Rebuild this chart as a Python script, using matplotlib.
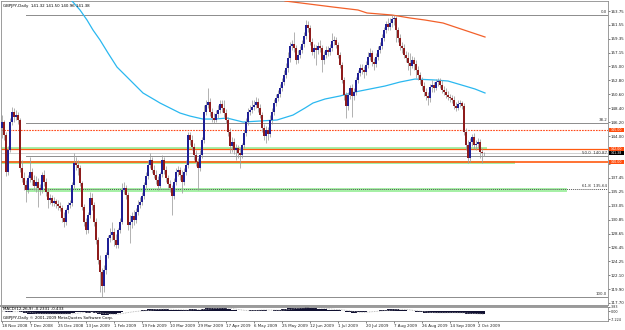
import matplotlib
matplotlib.use("Agg")
import matplotlib.pyplot as plt
import numpy as np
import pandas as pd
from matplotlib import font_manager
from matplotlib.transforms import blended_transform_factory
from matplotlib.patches import Rectangle

# ---------------- data ----------------
title_text = "GBPJPY,Daily  141.32 141.50 140.96 141.38"
open_first = 145.30
close = [146.24,144.19,138.35,141.83,146.24,147.81,147.03,147.34,146.56,138.99,
 137.41,136.30,135.52,137.41,138.35,137.09,136.14,136.77,135.83,135.52,
 137.88,136.77,135.20,133.94,134.26,133.47,133.78,133.31,132.99,132.68,
 131.10,130.46,132.36,133.15,133.47,136.30,139.78,139.46,138.99,136.62,
 132.84,130.46,129.21,131.57,134.26,133.15,130.46,127.63,124.48,122.58,
 120.37,122.90,125.26,127.95,128.42,128.89,127.63,126.84,129.21,130.46,
 135.52,135.83,134.73,129.99,130.46,131.41,130.78,132.04,133.15,133.62,
 134.57,136.30,137.72,139.46,140.25,138.67,137.88,137.09,136.14,138.04,
 140.25,138.67,137.41,136.46,135.83,134.57,136.77,138.35,138.67,137.88,
 136.77,138.35,139.46,144.19,143.40,142.30,141.04,139.93,138.99,141.04,
 143.40,147.81,148.92,149.39,147.81,146.87,146.56,147.50,148.13,149.08,
 148.45,147.66,146.56,144.66,142.45,143.09,141.83,142.14,141.36,141.04,
 142.61,144.50,146.24,147.81,148.13,148.61,148.92,149.39,148.45,147.34,
 145.30,144.03,144.98,144.35,146.56,147.81,149.24,150.03,150.66,151.61,
 152.55,153.65,154.75,156.34,158.23,158.55,157.92,156.02,156.81,157.60,
 158.55,159.81,161.54,161.07,158.86,157.28,157.92,157.60,158.23,157.92,
 156.02,156.81,157.60,157.28,157.92,159.02,159.18,158.39,156.81,155.24,
 152.87,150.50,148.76,150.50,151.61,150.35,150.98,152.87,153.97,154.75,
 154.44,154.12,155.24,156.50,157.13,155.71,155.39,156.50,157.60,158.23,
 159.49,160.75,161.70,161.23,161.86,162.49,162.65,160.75,159.49,158.23,
 157.92,156.81,156.34,155.55,155.08,156.02,155.39,154.44,153.65,152.87,
 151.92,150.98,150.35,150.03,151.76,152.08,151.61,152.55,152.71,152.08,
 151.29,150.98,150.50,150.19,150.03,149.71,148.76,148.45,149.08,149.24,
 148.76,144.66,142.61,140.57,143.09,143.88,142.61,142.77,143.09,141.51,
 141.32,141.38]
high = [147.34,146.56,144.66,142.45,146.87,148.61,148.45,148.13,147.81,146.87,
 140.25,138.35,137.09,137.88,140.73,138.99,137.88,137.72,137.41,136.46,
 138.35,138.67,137.41,135.83,134.89,134.73,134.42,134.10,133.94,133.62,
 133.15,132.04,132.68,133.62,133.94,136.77,141.36,140.73,140.25,139.46,
 136.93,133.31,131.10,132.04,135.20,135.05,133.62,131.10,128.10,125.26,
 123.22,123.69,125.73,128.42,129.53,130.46,129.53,128.58,129.53,131.10,
 136.62,136.77,136.30,135.20,131.57,132.04,132.36,132.68,133.94,134.42,
 135.20,136.77,138.35,140.25,141.36,140.73,139.46,138.67,137.72,138.35,
 141.04,140.73,139.30,137.88,137.09,136.30,137.41,138.99,139.30,139.14,
 138.67,138.99,140.25,144.66,144.66,144.19,142.93,141.83,140.57,141.83,
 143.88,148.92,149.71,151.61,150.03,148.45,147.66,148.13,148.92,149.71,
 149.71,149.71,148.29,147.03,145.30,143.88,143.72,142.77,142.61,142.14,
 142.93,144.98,146.87,148.45,148.92,149.71,149.71,150.19,150.03,149.08,
 147.81,145.93,145.61,145.45,147.34,148.45,149.87,150.66,151.29,152.24,
 153.18,154.44,155.55,157.28,158.86,159.18,160.44,158.39,157.60,158.23,
 159.18,160.44,162.33,162.17,161.54,159.49,158.55,158.39,158.86,159.18,
 158.39,157.44,158.23,158.23,158.55,160.28,159.81,159.65,158.86,157.28,
 155.71,153.34,150.98,150.98,152.08,152.24,151.61,153.34,154.44,155.39,
 155.39,155.08,155.86,157.28,157.92,157.60,156.34,157.13,158.23,158.86,
 160.12,161.23,162.17,162.65,162.65,163.12,163.12,162.96,161.23,160.12,
 158.86,158.55,157.44,157.28,157.13,156.65,156.50,156.02,155.08,154.12,
 153.34,152.55,151.61,150.98,152.24,152.87,152.55,153.02,153.18,153.18,
 152.87,151.92,151.61,151.13,150.66,150.50,150.35,149.39,149.71,149.71,
 149.55,149.24,145.30,143.40,143.72,144.35,144.50,143.40,143.72,143.56,
 142.14,141.50]
low = [143.72,143.40,137.72,137.88,141.51,145.77,146.24,146.56,145.93,138.35,
 136.77,135.52,133.62,135.05,136.77,136.30,135.52,135.20,132.84,134.73,
 135.05,136.14,134.57,132.68,133.31,132.99,132.99,132.68,132.36,132.20,
 130.46,129.68,129.99,131.89,132.68,132.99,135.83,138.67,137.88,136.14,
 132.36,129.83,128.58,128.74,131.10,132.36,129.83,127.00,123.85,119.42,
 118.64,119.42,122.27,124.80,127.31,127.63,126.68,126.37,126.37,128.74,
 130.15,134.89,134.10,129.21,127.16,129.53,129.99,130.31,131.57,132.68,
 133.15,134.10,135.83,137.25,138.99,138.20,137.41,136.46,135.52,135.83,
 137.57,138.04,136.77,135.83,135.20,131.57,134.10,136.30,137.72,137.09,
 135.05,136.30,137.88,138.99,142.61,141.83,140.25,139.30,135.52,138.51,
 140.57,142.93,147.34,148.45,147.18,146.24,146.08,146.24,146.87,147.66,
 147.81,147.03,146.08,144.03,141.36,141.51,141.20,140.25,140.57,138.99,
 140.57,142.14,144.03,145.77,147.34,147.66,148.13,148.45,147.81,146.87,
 144.66,143.40,142.93,143.40,143.88,145.93,147.34,148.76,149.55,150.19,
 151.13,152.08,153.18,154.12,155.71,157.60,157.28,155.39,155.55,156.34,
 157.13,158.08,159.33,160.44,158.39,156.81,156.34,155.24,156.97,157.28,
 154.12,155.39,156.34,156.65,156.81,157.44,158.39,157.92,156.34,154.75,
 152.39,149.71,146.87,148.13,149.87,147.03,149.71,150.50,152.39,153.50,
 153.81,153.18,153.65,154.75,156.02,155.08,154.44,154.91,156.02,157.13,
 157.76,159.02,160.28,160.75,160.75,161.23,161.54,158.86,158.86,157.60,
 157.13,156.34,155.71,154.44,153.65,154.75,154.44,153.18,152.87,152.24,
 151.29,150.35,149.71,148.92,149.39,150.98,150.98,151.29,151.92,151.61,
 150.82,150.50,150.03,149.71,149.39,149.24,148.29,147.97,148.13,148.61,
 148.29,144.19,141.83,139.78,139.93,142.45,141.99,141.83,142.14,140.57,
 139.78,140.96]

date_labels = ["18 Nov 2008","7 Dec 2008","25 Dec 2008","13 Jan 2009","1 Feb 2009",
 "19 Feb 2009","10 Mar 2009","29 Mar 2009","17 Apr 2009","6 May 2009","25 May 2009",
 "12 Jun 2009","1 Jul 2009","20 Jul 2009","7 Aug 2009","26 Aug 2009","14 Sep 2009","2 Oct 2009"]
date_label_bars = list(range(0, 239, 14))

price_ticks = [163.75,161.55,159.35,157.15,155.00,152.80,150.60,148.40,146.20,144.00,
 141.80,139.65,137.45,135.25,133.05,130.85,128.65,126.45,124.25,122.10,119.90,117.70]
# tick labels hidden behind the price tags in the reference
hidden_ticks = [141.80, 139.65]

# moving averages (bar index, price)
ma_fast_bar = [35,39,42.5,45.5,49,53,57.5,62.5,66.5,70.5,76.5,79,84,89,94,100.5,106.5,112.5,
 120.5,129,137.5,145.5,151.5,155.5,161.5,169,176.5,184,191.5,199,206.5,216.5,223,231.5,236.5,241.5]
ma_fast_val = [165.33,163.91,162.33,160.75,159.18,157.13,154.91,153.34,152.08,150.82,149.71,149.24,
 148.45,147.66,147.18,146.71,146.71,146.87,146.24,146.40,146.56,147.34,148.45,149.24,149.87,150.35,
 150.98,151.45,151.92,152.55,153.02,152.87,152.71,151.92,151.45,150.82]
ma_slow_bar = [141.5,161.5,165.5,178,182.5,195,204,211.5,220.5,228,234,241.5]
ma_slow_val = [165.33,164.54,164.38,163.91,163.44,163.12,162.65,162.33,161.86,161.07,160.44,159.65]

# Fibonacci levels
fib_names = ["0.0","38.2","50.0","61.8","100.0"]
fib_values = [163.06,146.11,140.87,135.64,118.69]
fib_start_bar = 12

# horizontal support/resistance lines and zones
level_values = [145.00, 142.00, 140.00]
level_labels = ["145.00","142.00","140.00"]
zone_low = [141.85, 139.67, 135.25]
zone_high = [142.25, 140.10, 135.80]
zone_start = [-0.5, -0.5, 12]
zone_end = [242.5, 256.5, 282.5]
last_price = 141.38

# ---------------- fonts ----------------
names = {f.name for f in font_manager.fontManager.ttflist}
if "Liberation Sans Narrow" in names:
    FAM, FS = ["Liberation Sans Narrow", "DejaVu Sans"], 3.7
elif "DejaVu Sans Condensed" in names:
    FAM, FS = ["DejaVu Sans Condensed", "DejaVu Sans"], 3.2
else:
    FAM, FS = ["DejaVu Sans"], 2.9
plt.rcParams["font.family"] = FAM
FS_BOX = FS * 0.82

# ---------------- figure ----------------
W, H = 625, 330
fig = plt.figure(figsize=(W/100, H/100), dpi=100)
fig.patch.set_facecolor("white")
def fx(px): return px / W
def fy(py): return 1 - py / H

ax = fig.add_axes([fx(1), fy(305), (608-1)/W, (305-1)/H])
axm = fig.add_axes([fx(1), fy(321), (608-1)/W, (321-307)/H])

n = len(close)
idx = np.arange(n)
c = np.array(close)
o = np.concatenate([[open_first], c[:-1]])
hi = np.maximum(np.array(high), np.maximum(o, c))
lo = np.minimum(np.array(low), np.minimum(o, c))

ax.set_xlim(-0.5, 303)
ax.set_ylim(117.38, 165.33)

grey = "#8c8c8c"

# zones
for zl, zh, zs, ze in zip(zone_low, zone_high, zone_start, zone_end):
    ax.add_patch(Rectangle((zs, zl), ze - zs, zh - zl, facecolor="#a6f0a6",
                           edgecolor="none", zorder=1))

# fib lines
for name, v in zip(fib_names, fib_values):
    ls = (0, (1, 1)) if name == "61.8" else "-"
    col = "#555555" if name == "61.8" else grey
    ax.plot([fib_start_bar, 303], [v, v], color=col, lw=0.7, ls=ls, zorder=2)
    lab = name if name in ("0.0", "38.2", "100.0") else f"{name}  {v:.2f}"
    ax.text(302.5, v + 0.15, lab, ha="right", va="bottom", fontsize=FS, color="#333333", zorder=6)

# bid line
ax.axhline(last_price, color="#c8c8c8", lw=0.6, zorder=2)

# S/R lines
ax.axhline(level_values[0], color="#ff4a1a", lw=0.8, ls=(0, (1.5, 1)), zorder=2)
ax.axhline(level_values[1], color="#ff5a10", lw=0.9, zorder=2)
ax.axhline(level_values[2], color="#ff5a10", lw=1.2, zorder=2)

# moving averages
ax.plot(ma_fast_bar, ma_fast_val, color="#2ab8f0", lw=0.9, zorder=3)
ax.plot(ma_slow_bar, ma_slow_val, color="#f2602a", lw=0.9, zorder=3)

# candles
ax.vlines(idx, lo, hi, color="#9c9c9c", lw=0.55, zorder=4)
up = c >= o
body_h = np.where(np.abs(c - o) < 0.08, 0.08, np.abs(c - o))
body_b = np.minimum(o, c)
ax.bar(idx[up], body_h[up], bottom=body_b[up], width=0.8, color="#1f1f95", lw=0, zorder=5)
ax.bar(idx[~up], body_h[~up], bottom=body_b[~up], width=0.8, color="#8e1c1c", lw=0, zorder=5)

# axes styling
for sp in ax.spines.values():
    sp.set_color(grey); sp.set_linewidth(0.6)
ax.set_xticks([])
ax.yaxis.tick_right()
ax.set_yticks(price_ticks)
ax.set_yticklabels(["" if v in hidden_ticks else f"{v:.2f}" for v in price_ticks])
ax.tick_params(axis="y", labelsize=FS, length=1.2, width=0.4, pad=0.8, colors="#222222")

# price-tag boxes on the right axis
trans = blended_transform_factory(ax.transAxes, ax.transData)
box_h = 4.0 / 6.34          # box height in price units (~4 px)
box_w = 15.0 / 607          # box width in axes fraction (~15 px)
tags = list(zip(level_values, level_labels, ["#ff4d0d"] * 3)) + [(last_price, f"{last_price:.2f}", "black")]
for k, (v, lab, colr) in enumerate(tags):
    ax.add_patch(Rectangle((1.002, v - box_h / 2), box_w, box_h, transform=trans,
                           facecolor=colr, edgecolor="none", zorder=10 + k, clip_on=False))
    ax.text(1.002 + box_w / 2, v, lab, transform=trans, fontsize=FS_BOX, color="white",
            va="center_baseline", ha="center", zorder=20 + k, clip_on=False)

fig.text(fx(3), fy(5.5), title_text, fontsize=FS, va="center", ha="left", color="black")

# separator between panels
fig.patches.append(Rectangle((fx(0), fy(307)), fx(608), 2/H, transform=fig.transFigure,
                             facecolor="#9a9a9a", edgecolor="none"))

# ---------------- MACD panel ----------------
s = pd.Series(c)
macd = (s.ewm(span=12, adjust=False).mean() - s.ewm(span=26, adjust=False).mean()).values
signal = pd.Series(macd).rolling(9, min_periods=1).mean().values
axm.set_xlim(-0.5, 303)
axm.set_ylim(-9.0, 3.6)
axm.bar(idx, macd, width=0.7, color="#101030", lw=0)
axm.plot(idx, signal, color="#b0b0b0", lw=0.6, ls=(0, (1, 1)))
for sp in axm.spines.values():
    sp.set_color(grey); sp.set_linewidth(0.6)
axm.yaxis.tick_right()
axm.set_yticks([3.83, 0.0, -7.224])
axm.set_yticklabels(["3.83", "0.00", "-7.224"])
axm.tick_params(axis="y", labelsize=FS * 0.85, length=1.2, width=0.4, pad=0.8, colors="#222222")
axm.set_xticks(date_label_bars)
axm.set_xticklabels(date_labels, ha="left")
axm.tick_params(axis="x", labelsize=FS, length=1.5, width=0.4, pad=0.8, colors="#222222")
axm.text(0.004, 0.85, "MACD(12,26,9) -0.2331 -0.433", transform=axm.transAxes,
         fontsize=FS, va="center", ha="left")
axm.text(0.004, 0.18, "GBPJPY,Daily \u00a9 2001-2009 MetaQuotes Software Corp.", transform=axm.transAxes,
         fontsize=FS, va="center", ha="left")

fig.savefig("out.png", dpi=100, facecolor="white")
